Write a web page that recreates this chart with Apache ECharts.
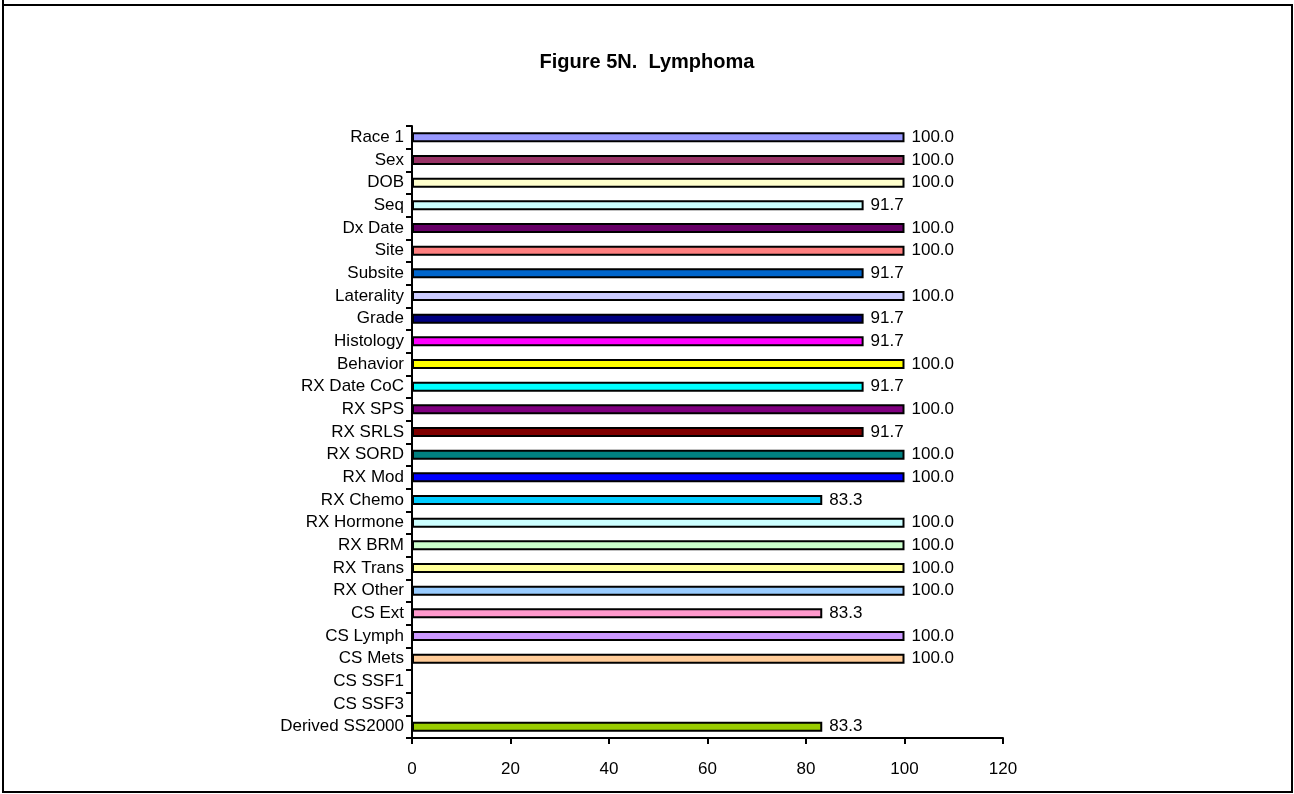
<!DOCTYPE html>
<html>
<head>
<meta charset="utf-8">
<script src="https://cdn.jsdelivr.net/npm/echarts@6/dist/echarts.min.js"></script>
<style>
  html, body { margin: 0; padding: 0; background: #fff; }
  #chart { width: 1294px; height: 794px; }
</style>
</head>
<body>
<div id="chart"></div>
<script>
// Data items, top to bottom
const categories = [
  'Race 1', 'Sex', 'DOB', 'Seq', 'Dx Date', 'Site', 'Subsite', 'Laterality',
  'Grade', 'Histology', 'Behavior', 'RX Date CoC', 'RX SPS', 'RX SRLS',
  'RX SORD', 'RX Mod', 'RX Chemo', 'RX Hormone', 'RX BRM', 'RX Trans',
  'RX Other', 'CS Ext', 'CS Lymph', 'CS Mets', 'CS SSF1', 'CS SSF3',
  'Derived SS2000'
];
const values = [
  100.0, 100.0, 100.0, 91.7, 100.0, 100.0, 91.7, 100.0,
  91.7, 91.7, 100.0, 91.7, 100.0, 91.7,
  100.0, 100.0, 83.3, 100.0, 100.0, 100.0,
  100.0, 83.3, 100.0, 100.0, null, null,
  83.3
];
const barColors = [
  '#9999FF', '#993366', '#FFFFCC', '#CCFFFF', '#660066', '#FF8080', '#0066CC', '#CCCCFF',
  '#000080', '#FF00FF', '#FFFF00', '#00FFFF', '#800080', '#800000',
  '#008080', '#0000FF', '#00CCFF', '#CCFFFF', '#CCFFCC', '#FFFF99',
  '#99CCFF', '#FF99CC', '#CC99FF', '#FFCC99', '#FFFFFF', '#FFFFFF',
  '#99CC00'
];
const xTicks = { min: 0, max: 120, interval: 20 };
const titleText = 'Figure 5N.  Lymphoma';

const font = 'Arial, "Liberation Sans", sans-serif';
const chart = echarts.init(document.getElementById('chart'), null, { renderer: 'canvas' });

chart.setOption({
  backgroundColor: '#ffffff',
  animation: false,
  title: {
    text: titleText,
    left: 'center',
    top: 47,
    textStyle: { fontFamily: font, fontSize: 20, fontWeight: 'bold', color: '#000' }
  },
  graphic: [
    {
      type: 'rect',
      shape: { x: 3, y: 5, width: 1289, height: 787 },
      style: { fill: 'none', stroke: '#000', lineWidth: 2 },
      silent: true
    },
    {
      type: 'line',
      shape: { x1: 3, y1: 0, x2: 3, y2: 6 },
      style: { stroke: '#000', lineWidth: 2 },
      silent: true
    }
  ],
  grid: { left: 412, top: 126, width: 591, height: 612, containLabel: false },
  xAxis: {
    type: 'value',
    min: xTicks.min,
    max: xTicks.max,
    interval: xTicks.interval,
    splitLine: { show: false },
    axisLine: { show: true, lineStyle: { color: '#000', width: 2 } },
    axisTick: { show: true, length: 6, lineStyle: { color: '#000', width: 2 } },
    axisLabel: { color: '#000', fontFamily: font, fontSize: 17, margin: 23 }
  },
  yAxis: {
    type: 'category',
    data: categories,
    inverse: true,
    axisLine: { show: true, lineStyle: { color: '#000', width: 2 } },
    axisTick: { show: true, length: 6, lineStyle: { color: '#000', width: 2 } },
    axisLabel: { color: '#000', fontFamily: font, fontSize: 17, margin: 8 }
  },
  series: [{
    type: 'bar',
    data: values.map((v, i) => ({
      value: v,
      itemStyle: { color: barColors[i] }
    })),
    barWidth: 10,
    itemStyle: { borderColor: '#000', borderWidth: 2 },
    label: {
      show: true,
      position: 'right',
      distance: 7,
      color: '#000',
      fontFamily: font,
      fontSize: 17,
      formatter: p => (p.value == null ? '' : Number(p.value).toFixed(1))
    }
  }]
});
</script>
</body>
</html>
